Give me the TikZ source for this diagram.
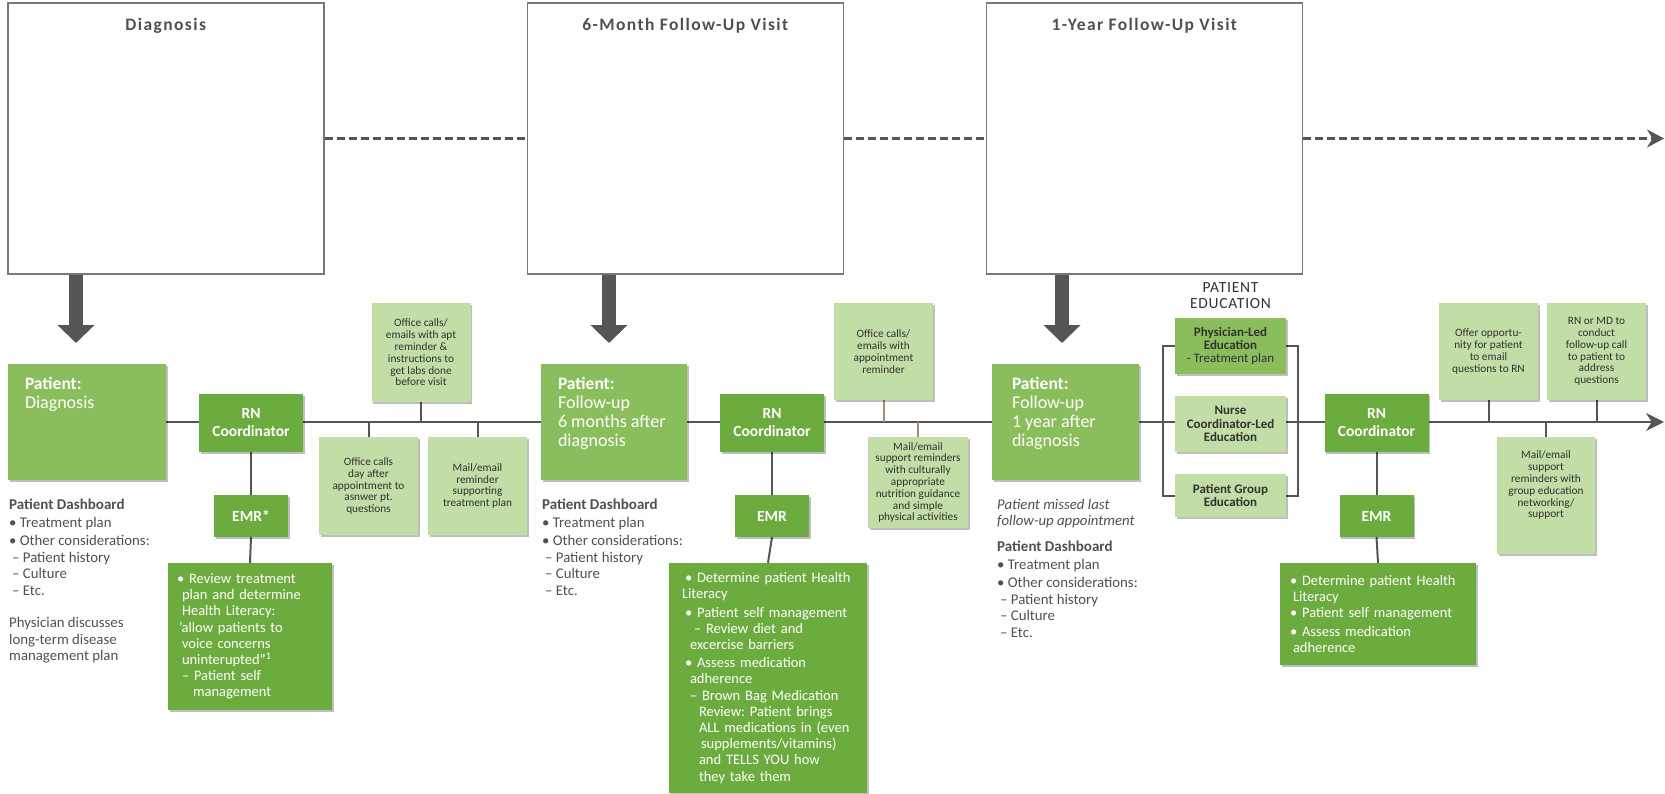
\documentclass[tikz,border=0pt]{standalone}
\usepackage{fontspec}
\setmainfont{Carlito}
\newfontfamily\spacedfont[LetterSpace=8]{Carlito}
\newfontfamily\capsfont[LetterSpace=5]{Carlito}
\frenchspacing
\usetikzlibrary{arrows.meta, positioning, calc, shadows, backgrounds}
\definecolor{ptgreen}{RGB}{138,190,92}
\definecolor{rngreen}{RGB}{108,172,62}
\definecolor{lightgreen}{RGB}{194,221,166}
\definecolor{linegray}{RGB}{85,85,85}
\definecolor{boxgray}{RGB}{120,120,120}
\definecolor{textgray}{RGB}{80,80,80}
\definecolor{darktext}{RGB}{50,50,50}
\definecolor{tanline}{RGB}{168,140,110}

\begin{document}
\begin{tikzpicture}[x=1pt, y=-1pt,
  visit/.style={draw=boxgray, line width=1.5pt, fill=white, minimum width=316pt, minimum height=271pt, inner sep=0},
  titletxt/.style={text=textgray, font=\spacedfont\bfseries\fontsize{17.5}{20}\selectfont, inner sep=0},
  dashline/.style={draw=linegray, line width=2.5pt, dash pattern=on 8pt off 4pt},
  droparrow/.style={draw=linegray, line width=14pt, -{Triangle[length=18pt, width=36pt]}},
  shade/.style={drop shadow={shadow xshift=1.5pt, shadow yshift=-1.5pt, opacity=0.25, fill=black}},
  ptbox/.style={fill=ptgreen, minimum height=116pt, inner sep=0, shade},
  pttext/.style={text=white, align=left, inner sep=0, anchor=north west, font=\fontsize{18}{19}\selectfont},
  rnbox/.style={fill=rngreen, text=white, align=center, inner sep=0, minimum width=104pt, minimum height=58pt, font=\bfseries\fontsize{15.5}{18}\selectfont, shade},
  emrbox/.style={rnbox, minimum width=74pt, minimum height=42pt},
  notebox/.style={fill=rngreen, text=white, align=left, inner ysep=0, inner xsep=9pt, font=\fontsize{14.5}{16.2}\selectfont, shade},
  lighttxt/.style={text=darktext, align=center, inner sep=0, font=\fontsize{11.3}{11.8}\selectfont},
  lightbox/.style={lighttxt, fill=lightgreen, minimum width=99pt, shade},
  edubox/.style={fill=lightgreen, text=darktext, align=center, inner sep=0, minimum width=111pt, font=\bfseries\fontsize{13}{13.2}\selectfont, shade},
  dashtxt/.style={text=textgray, align=left, inner sep=0, anchor=north west, font=\fontsize{14.8}{16.5}\selectfont},
  tline/.style={draw=linegray, line width=2.5pt},
  stem/.style={draw=linegray, line width=2pt},
  tanstem/.style={draw=tanline, line width=2pt}
]
\useasboundingbox (0,0) rectangle (1665,793);

% visit boxes along the top
\node[visit] (visitA) at (165.75,138.5) {};
\node[visit] (visitB) at (685.25,138.5) {};
\node[visit] (visitC) at (1144.25,138.5) {};
\node[titletxt, below=16pt of visitA.north] (titleA) {Diagnosis};
\node[titletxt, below=16pt of visitB.north] (titleB) {6-Month Follow-Up Visit};
\node[titletxt, below=16pt of visitC.north] (titleC) {1-Year Follow-Up Visit};

\coordinate (topend) at (1664,138.5);
\draw[dashline] (visitA.east) -- (visitB.west);
\draw[dashline] (visitB.east) -- (visitC.west);
\draw[dashline, -{Stealth[length=17pt, width=18pt]}] (visitC.east) -- (topend);

% drop arrows
\coordinate (dropA) at (76,343);
\coordinate (dropB) at (609,343);
\coordinate (dropC) at (1062,343);
\draw[droparrow] (visitA.south -| dropA) -- (dropA);
\draw[droparrow] (visitB.south -| dropB) -- (dropB);
\draw[droparrow] (visitC.south -| dropC) -- (dropC);

% patient boxes
\node[ptbox, minimum width=158pt] (ptA) at (87,422) {};
\node[ptbox, minimum width=146pt] (ptB) at (614,422) {};
\node[ptbox, minimum width=147pt] (ptC) at (1065.5,422) {};
\node[pttext, below right=13pt and 17pt of ptA.north west] (ptAtxt) {{\bfseries\fontsize{17.5}{19}\selectfont Patient:}\\Diagnosis};
\node[pttext, below right=13pt and 17pt of ptB.north west] (ptBtxt) {{\bfseries\fontsize{17.5}{19}\selectfont Patient:}\\Follow-up\\6 months after\\diagnosis};
\node[pttext, below right=13pt and 20pt of ptC.north west] (ptCtxt) {{\bfseries\fontsize{17.5}{19}\selectfont Patient:}\\Follow-up\\1 year after\\diagnosis};

% RN coordinators and EMR
\node[rnbox] (rnA) at (251,423) {RN\\Coordinator};
\node[rnbox] (rnB) at (772,423) {RN\\Coordinator};
\node[rnbox] (rnC) at (1376.5,423) {RN\\Coordinator};
\node[emrbox] (emrA) at (251,516) {EMR*};
\node[emrbox] (emrB) at (772,516) {EMR};
\node[emrbox] (emrC) at (1376.5,516) {EMR};

\node[notebox, text width=146pt, minimum height=147pt] (noteA) at (250,636.5) {%
• Review treatment\\
\hspace*{5pt}plan and determine\\
\hspace*{5pt}Health Literacy:\\
\hspace*{2pt}'allow patients to\\
\hspace*{5pt}voice concerns\\
\hspace*{5pt}uninterupted”\textsuperscript{1}\\
\hspace*{5pt}– Patient self\\
\hspace*{16pt}management};
\node[notebox, text width=172pt, inner xsep=13pt, minimum height=230pt] (noteB) at (768,678) {%
\hspace*{3pt}• Determine patient Health\\
Literacy\\[2pt]
\hspace*{3pt}• Patient self management\\
\hspace*{12pt}– Review diet and\\
\hspace*{8pt}excercise barriers\\[2pt]
\hspace*{3pt}• Assess medication\\
\hspace*{8pt}adherence\\
\hspace*{8pt}– Brown Bag Medication\\
\hspace*{17pt}Review: Patient brings\\
\hspace*{17pt}ALL medications in (even\\
\hspace*{19pt}supplements/vitamins)\\
\hspace*{17pt}and TELLS YOU how\\
\hspace*{17pt}they take them};
\node[notebox, text width=176pt, inner xsep=10pt, minimum height=102pt] (noteC) at (1378,614) {%
• Determine patient Health\\
\hspace*{3pt}Literacy\\
• Patient self management\\[2pt]
• Assess medication\\
\hspace*{3pt}adherence};

% reminder boxes
\node[lightbox, minimum height=99pt] (callA) at (421,352.5) {Office calls/\\emails with apt\\reminder \&\\instructions to\\get labs done\\before visit};
\node[lightbox, minimum height=98pt] (callB) at (368.5,486) {Office calls\\day after\\appointment to\\asnwer pt.\\questions};
\node[lightbox, minimum height=98pt] (mailA) at (477.5,486) {Mail/email\\reminder\\supporting\\treatment plan};
\node[lightbox, minimum height=97pt] (callC) at (883.5,351.5) {Office calls/\\emails with\\appointment\\reminder};
\node[lightbox, minimum width=100pt, minimum height=91pt] (mailB) at (918,482.5) {Mail/email\\support reminders\\with culturally\\appropriate\\nutrition guidance\\and simple\\physical activities};
\node[lightbox, minimum height=97pt] (offer) at (1488.5,351.5) {Offer opportu-\\nity for patient\\to email\\questions to RN};
\node[lightbox, minimum height=97pt] (rnmd) at (1596.5,351.5) {RN or MD to\\conduct\\follow-up call\\to patient to\\address\\questions};
\node[lightbox, minimum width=98pt, minimum height=117pt] (mailC) at (1546,495.5) {};
\node[lighttxt, below=14pt of mailC.north] (mailCtxt) {Mail/email\\support\\reminders with\\group education\\networking/\\support};

% patient education
\node[edubox, fill=ptgreen, minimum height=56pt] (phys) at (1230.5,346) {Physician-Led\\Education\\{\mdseries\fontsize{13}{13.2}\selectfont - Treatment plan}};
\node[edubox, minimum height=56pt] (nurse) at (1230.5,424) {Nurse\\Coordinator-Led\\Education};
\node[edubox, minimum height=43pt] (group) at (1230.5,495.5) {Patient Group\\Education};
\node[text=darktext, align=center, inner sep=0, font=\capsfont\fontsize{15.5}{15.5}\selectfont, above=9pt of phys] (edulbl) {PATIENT\\EDUCATION};

% dashboards
\node[dashtxt] (dashA) at (9,499) {{\bfseries\fontsize{15}{16.5}\selectfont Patient Dashboard}\\[1pt]
• Treatment plan\\[2pt]
• Other considerations:\\
\hspace*{3pt}– Patient history\\
\hspace*{3pt}– Culture\\
\hspace*{3pt}– Etc.\\[16pt]
Physician discusses\\
long-term disease\\
management plan};
\node[dashtxt] (dashB) at (542,499) {{\bfseries\fontsize{15}{16.5}\selectfont Patient Dashboard}\\[1pt]
• Treatment plan\\[2pt]
• Other considerations:\\
\hspace*{3pt}– Patient history\\
\hspace*{3pt}– Culture\\
\hspace*{3pt}– Etc.};
\node[dashtxt, font=\itshape\fontsize{14.8}{16}\selectfont] (missC) at (997,499) {Patient missed last\\follow-up appointment};
\node[dashtxt] (dashC) at (997,541) {{\bfseries\fontsize{15}{16.5}\selectfont Patient Dashboard}\\[1pt]
• Treatment plan\\[2pt]
• Other considerations:\\
\hspace*{3pt}– Patient history\\
\hspace*{3pt}– Culture\\
\hspace*{3pt}– Etc.};

% timeline and stems
\coordinate (tl) at (0,422);
\coordinate (tlend) at (1664,422);
\begin{pgfonlayer}{background}
  \draw[tline, -{Stealth[length=18pt, width=18pt]}] (ptA.east) -- (tlend);
  \draw[stem] (rnA.south) -- (emrA.north);
  \draw[stem] (emrA.south) -- (noteA.north);
  \draw[stem] (rnB.south) -- (emrB.north);
  \draw[stem] (emrB.south) -- (noteB.north);
  \draw[stem] (rnC.south) -- (emrC.north);
  \draw[stem] (emrC.south) -- (noteC.north);
  \draw[stem] (callA.south) -- (callA.south |- tl);
  \draw[stem] (callB.north) -- (callB.north |- tl);
  \draw[stem] (mailA.north) -- (mailA.north |- tl);
  \draw[tanstem] (callC.south) -- (callC.south |- tl);
  \draw[tanstem] (mailB.north) -- (mailB.north |- tl);
  \draw[stem] (offer.south) -- (offer.south |- tl);
  \draw[stem] (rnmd.south) -- (rnmd.south |- tl);
  \draw[stem] (mailC.north) -- (mailC.north |- tl);
  \draw[stem] (phys.west) -- ++(-12,0) |- (group.west);
  \draw[stem] (phys.east) -- ++(12,0) |- (group.east);
\end{pgfonlayer}
\end{tikzpicture}
\end{document}
